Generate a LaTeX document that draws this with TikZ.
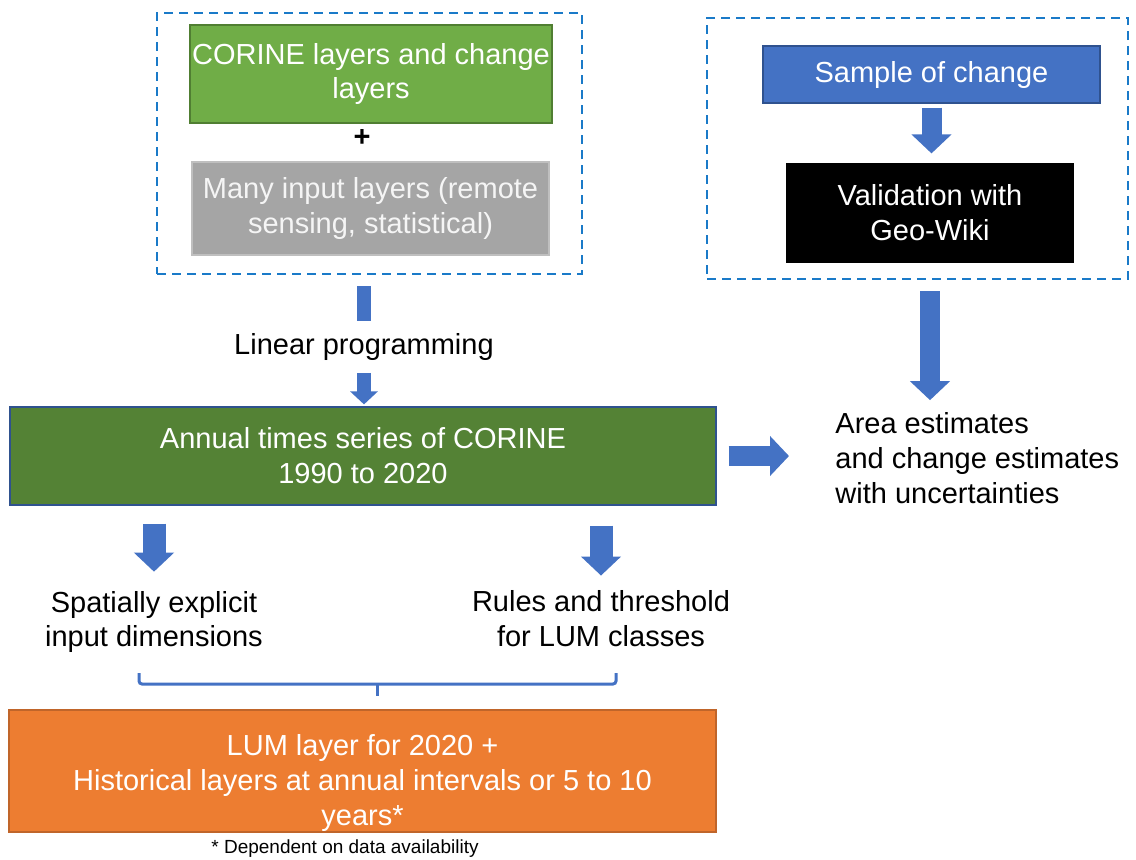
\documentclass[tikz,border=0pt]{standalone}
\usepackage{fontspec}
\setmainfont{Liberation Sans}
\usetikzlibrary{arrows.meta}

\definecolor{lightgreen}{HTML}{70AD47}
\definecolor{greenborder}{HTML}{507E32}
\definecolor{midgray}{HTML}{A5A5A5}
\definecolor{grayborder}{HTML}{BFBFBF}
\definecolor{sampleblue}{HTML}{4472C4}
\definecolor{blueborder}{HTML}{2F528F}
\definecolor{darkgreen}{HTML}{548235}
\definecolor{lumorange}{HTML}{ED7D31}
\definecolor{orangeborder}{HTML}{C0652A}
\definecolor{dashblue}{HTML}{1A7AC8}

\begin{document}
\begin{tikzpicture}[x=0.5pt, y=-0.5pt,
        every node/.style={font=\fontsize{14.5}{17.4}\selectfont, align=center},
        box/.style={draw, rectangle, line width=0.6pt, inner sep=0pt, text=white},
        group/.style={draw=dashblue, rectangle, line width=1pt, dash pattern=on 4.5pt off 3pt, inner sep=0pt},
        fat/.style={draw=sampleblue, line width=10pt, -{Triangle[width=19.5pt, length=9.5pt]}},
        slim/.style={draw=sampleblue, line width=7pt},
        brace/.style={draw=sampleblue, line width=1.5pt, rounded corners=1.5pt}]
        \useasboundingbox (0,0) rectangle (1136,859);

        \node[box, fill=lightgreen, draw=greenborder, minimum width=181pt, minimum height=49pt] (corine) at (371,74) {CORINE layers and change\\layers};
        \node (plus) at (362,138) {\textbf{+}};
        \node[box, fill=midgray, draw=grayborder, text=white!92!gray, minimum width=178.5pt, minimum height=46.5pt] (inputs) at (370.5,208.5) {Many input layers (remote\\sensing, statistical)};
        \node[group, minimum width=212.5pt, minimum height=130.5pt] (inbox) at (369.5,143.5) {};

        \node[box, fill=sampleblue, draw=blueborder, minimum width=168.5pt, minimum height=28.5pt] (sample) at (931.5,74.5) {Sample of change};
        \node[box, fill=black, minimum width=143pt, minimum height=49pt] (valid) at (930,213) {Validation with\\Geo-Wiki};
        \node[group, minimum width=210.5pt, minimum height=130.5pt] (valbox) at (917.5,148.5) {};

        \node[inner xsep=0pt, inner ysep=6pt] (lp) at (364,347) {Linear programming};
        \node[box, fill=darkgreen, draw=blueborder, minimum width=353pt, minimum height=49pt] (series) at (363,456) {Annual times series of CORINE\\1990 to 2020};
        \node[anchor=west, align=left, inner sep=0pt] (area) at (835,458) {Area estimates\\and change estimates\\with uncertainties};

        \node[inner sep=0pt] (spatial) at (154,622) {Spatially explicit\\input dimensions};
        \node[inner sep=0pt] (rules) at (601,619) {Rules and threshold\\for LUM classes};

        \node[box, fill=lumorange, draw=orangeborder, minimum width=353.5pt, minimum height=61pt] (lum) at (362.5,771) {};
        \node[text=white, inner sep=0pt] (lumtext) at (362.5,783) {LUM layer for 2020 +\\Historical layers at annual intervals or 5 to 10\\years*};
        \node[font=\fontsize{9.5}{11}\selectfont] (note) at (345,849) {* Dependent on data availability};

        % block arrows
        \draw[slim, shorten <=5.5pt] (inbox.south -| lp) -- (lp.north);
        \draw[slim, -{Triangle[width=13.5pt, length=6.5pt]}, shorten >=1pt] (lp.south) -- (lp.south |- series.north);
        \draw[fat, shorten <=2pt, shorten >=5pt] (sample.south) -- (sample.south |- valid.north);
        \draw[fat, shorten <=5.5pt, shorten >=6pt] (valid.south |- valbox.south) -- (valid.south |- area.north);
        \draw[fat, shorten <=6pt, shorten >=23pt] (series.east) -- (series.east -| area.west);
        \draw[fat, line width=11.5pt, shorten <=9pt, shorten >=9.5pt] (series.south -| spatial.north) -- (spatial.north);
        \draw[fat, line width=11.5pt, shorten <=10pt, shorten >=7.5pt] (series.south -| rules.north) -- (rules.north);

        % bracket
        \coordinate (bl) at (139,673);
        \coordinate (br) at (616,673);
        \coordinate (bm) at (377,684);
        \draw[brace] (bl) -- (bl |- bm) -- (br |- bm) -- (br);
        \draw[brace] (bm) -- ++(0,12);
    \end{tikzpicture}
\end{document}
